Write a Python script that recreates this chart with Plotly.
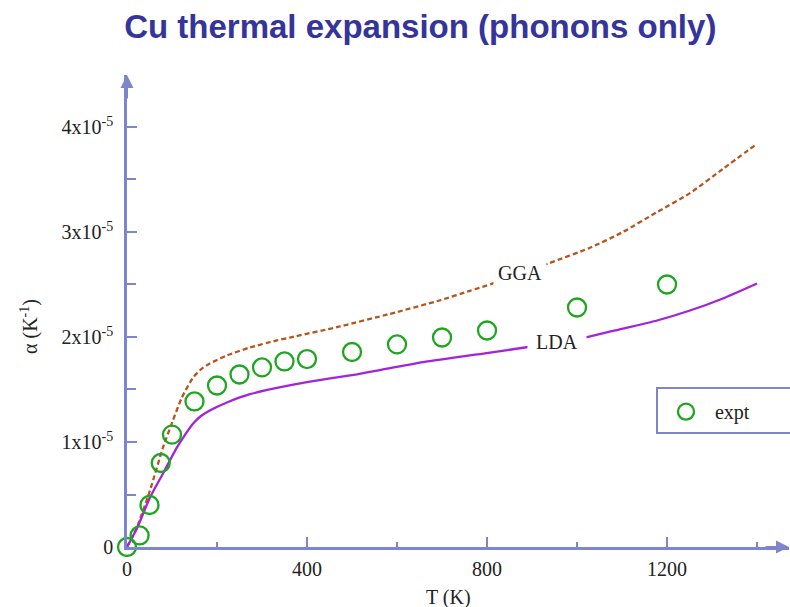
import plotly.graph_objects as go

# ---- data (alpha in units of 1e-5 K^-1) ----
T_gga = [0, 22, 51, 80, 102, 122, 147, 165, 184, 222, 273, 333, 362, 473, 584, 696, 762, 813, 936, 1029, 1102, 1178, 1251, 1324, 1400]
a_gga = [0, 0.186, 0.538, 0.948, 1.205, 1.424, 1.614, 1.695, 1.748, 1.824, 1.90, 1.967, 1.995, 2.10, 2.22, 2.35, 2.44, 2.51, 2.70, 2.85, 3.00, 3.19, 3.37, 3.60, 3.84]

T_lda = [0, 22, 51, 80, 111, 130, 147, 165, 184, 222, 273, 333, 400, 511, 562, 658, 807, 884, 1018, 1102, 1178, 1251, 1324, 1400]
a_lda = [0, 0.176, 0.471, 0.70, 0.948, 1.075, 1.176, 1.25, 1.30, 1.376, 1.455, 1.515, 1.57, 1.645, 1.685, 1.76, 1.852, 1.90, 1.995, 2.08, 2.157, 2.252, 2.367, 2.51]

T_exp = [0, 28, 50, 75, 100, 150, 200, 250, 300, 350, 400, 500, 600, 700, 800, 1000, 1200]
a_exp = [0, 0.11, 0.40, 0.80, 1.07, 1.386, 1.538, 1.643, 1.71, 1.767, 1.79, 1.857, 1.929, 1.995, 2.062, 2.281, 2.50]

x_tickvals = [0, 400, 800, 1200]
x_ticktext = ["0", "400", "800", "1200"]
x_minor = [200, 600, 1000, 1400]
y_tickvals = [0, 1, 2, 3, 4]
y_ticktext = ["0", "1x10<sup>-5</sup>", "2x10<sup>-5</sup>", "3x10<sup>-5</sup>", "4x10<sup>-5</sup>"]
y_minor = [0.5, 1.5, 2.5, 3.5]

AX = "#7d86cc"
TXT = "#222222"

fig = go.Figure()
fig.add_trace(go.Scatter(x=T_gga, y=a_gga, mode="lines", name="GGA", showlegend=False,
                         line=dict(color="#b5561f", width=2.3, dash="5px,3px", shape="spline", smoothing=0.6)))
fig.add_trace(go.Scatter(x=T_lda, y=a_lda, mode="lines", name="LDA", showlegend=False,
                         line=dict(color="#a324d8", width=2.3, shape="spline", smoothing=0.6)))
fig.add_trace(go.Scatter(x=T_exp, y=a_exp, mode="markers", name="expt", cliponaxis=False,
                         marker=dict(symbol="circle-open", size=18, color="#1fa51f", line=dict(width=2.3))))

fig.update_layout(
    width=790, height=607,
    margin=dict(l=127, r=1, t=75, b=60),
    paper_bgcolor="white", plot_bgcolor="white",
    font=dict(family="Liberation Serif", size=20, color=TXT),
    title=dict(text="<b>Cu thermal expansion (phonons only)</b>", x=0.532, xanchor="center",
               y=1 - 26 / 607, yanchor="middle",
               font=dict(family="Liberation Sans", size=33, color="#34349a")),
    xaxis=dict(range=[0, 1471], showline=True, linecolor=AX, linewidth=2.5,
               ticks="inside", ticklen=10, tickwidth=2, tickcolor=AX,
               tickvals=x_tickvals, ticktext=x_ticktext, ticklabelstandoff=2,
               showgrid=False, zeroline=False,
               minor=dict(tickvals=x_minor, ticks="inside", ticklen=5, tickwidth=2, tickcolor=AX, showgrid=False)),
    yaxis=dict(range=[0, 4.495], showline=True, linecolor=AX, linewidth=2.5,
               ticks="inside", ticklen=10, tickwidth=2, tickcolor=AX,
               tickvals=y_tickvals, ticktext=y_ticktext, ticklabelstandoff=7,
               showgrid=False, zeroline=False,
               minor=dict(tickvals=y_minor, ticks="inside", ticklen=9, tickwidth=2, tickcolor=AX, showgrid=False)),
    showlegend=True,
    legend=dict(x=0.8006, y=0.2867, xanchor="left", yanchor="middle", itemwidth=48,
                bgcolor="rgba(0,0,0,0)", borderwidth=0, font=dict(size=20, color=TXT)),
)

# legend frame (extends past the right edge as in the reference)
fig.add_shape(type="rect", xref="paper", yref="paper", x0=0.8006, x1=1.06, y0=0.2415, y1=0.3369,
              line=dict(color=AX, width=2), fillcolor="rgba(0,0,0,0)", layer="below")

# curve labels (white background breaks the lines as in the reference)
fig.add_annotation(x=873, y=2.605, text="GGA", showarrow=False, bgcolor="white", borderpad=4,
                   font=dict(size=20, color=TXT))
fig.add_annotation(x=956, y=1.948, text="LDA", showarrow=False, bgcolor="white", borderpad=8,
                   font=dict(size=20, color=TXT))

# axis titles
fig.add_annotation(xref="paper", yref="paper", x=(29 - 127) / 662, y=(547 - 327) / 472,
                   text="α (K<sup>-1</sup>)", textangle=-90, showarrow=False,
                   xanchor="center", yanchor="middle", font=dict(size=20, color=TXT))
fig.add_annotation(xref="paper", yref="paper", x=(448 - 127) / 662, y=(547 - 597) / 472,
                   text="T (K)", showarrow=False, xanchor="center", yanchor="middle",
                   font=dict(size=20, color=TXT))

# axis arrowheads
fig.add_annotation(xref="paper", yref="paper", x=0, y=1, ax=0, ay=25, text="", showarrow=True,
                   arrowhead=2, arrowsize=1.3, arrowwidth=2, arrowcolor=AX)
fig.add_annotation(xref="paper", yref="paper", x=1, y=0, ax=-25, ay=0, text="", showarrow=True,
                   arrowhead=2, arrowsize=1.3, arrowwidth=2, arrowcolor=AX)

fig.write_html("out.html")
